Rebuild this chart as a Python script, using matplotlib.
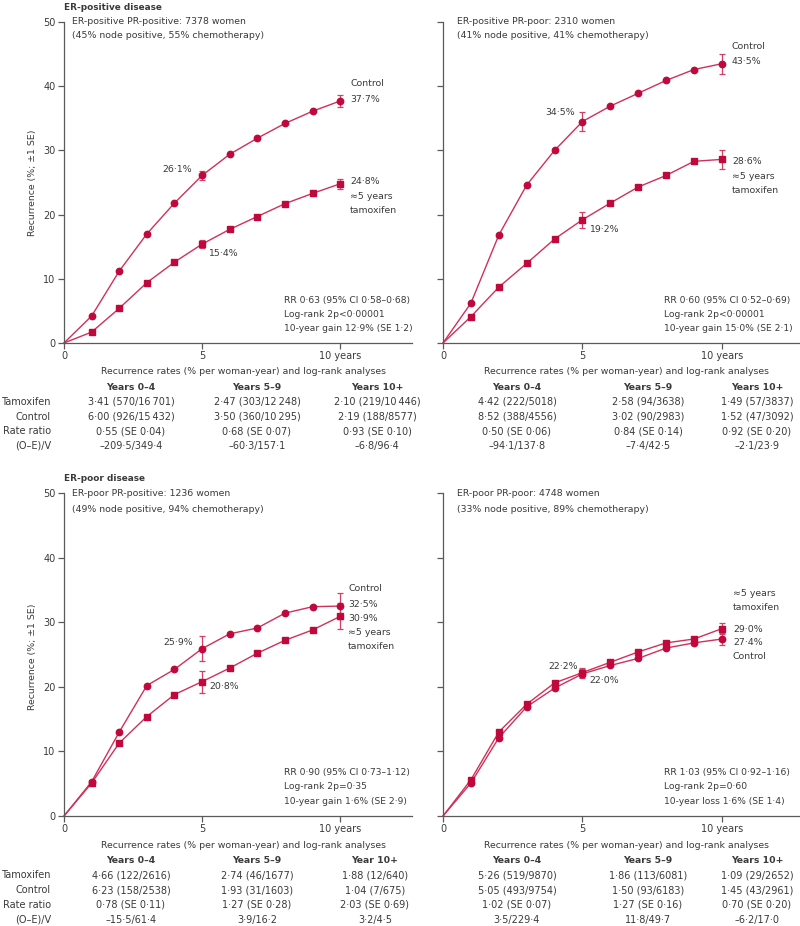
import matplotlib
matplotlib.use("Agg")
import matplotlib.pyplot as plt

plt.rcParams['font.family'] = ['DejaVu Sans']

W, H = 800, 926
FS = 6.75
FST = 7.0
TXT = '#3a3a3a'
AXC = '#5a5a5a'
LINE = '#d0305a'
MARK = '#c0083c'
ERRC = '#d2406a'

years = [0, 1, 2, 3, 4, 5, 6, 7, 8, 9, 10]

# ER-positive PR-positive
tl_control = [0, 4.2, 11.2, 17.0, 21.8, 26.1, 29.4, 31.9, 34.2, 36.1, 37.7]
tl_tamox = [0, 1.7, 5.4, 9.4, 12.6, 15.4, 17.7, 19.7, 21.7, 23.3, 24.8]
tl_control_se = [0.7, 0.9]
tl_tamox_se = [0.6, 0.8]

# ER-positive PR-poor
tr_control = [0, 6.2, 16.8, 24.6, 30.0, 34.5, 36.9, 38.9, 40.9, 42.6, 43.5]
tr_tamox = [0, 4.1, 8.7, 12.4, 16.2, 19.2, 21.8, 24.3, 26.1, 28.3, 28.6]
tr_control_se = [1.5, 1.55]
tr_tamox_se = [1.25, 1.45]

# ER-poor PR-positive
bl_control = [0, 5.3, 13.0, 20.2, 22.7, 25.9, 28.2, 29.1, 31.4, 32.4, 32.5]
bl_tamox = [0, 5.1, 11.3, 15.4, 18.8, 20.8, 22.9, 25.2, 27.2, 28.8, 30.9]
bl_control_se = [1.9, 1.95]
bl_tamox_se = [1.7, 2.0]

# ER-poor PR-poor
br_control = [0, 5.1, 12.1, 16.9, 19.8, 22.0, 23.3, 24.4, 26.0, 26.8, 27.4]
br_tamox = [0, 5.6, 13.0, 17.3, 20.6, 22.2, 23.8, 25.4, 26.8, 27.4, 29.0]
br_control_se = [0.7, 0.9]
br_tamox_se = [0.7, 0.9]

yticks = [0, 10, 20, 30, 40, 50]
xticks = [0, 5, 10]
xticklabels = ['0', '5', '10 years']

row_labels = ['Tamoxifen', 'Control', 'Rate ratio', '(O\u2013E)/V']

tl_cols = ['Years 0\u20134', 'Years 5\u20139', 'Years 10+']
tl_table = [['3\u00b741 (570/16\u2009701)', '2\u00b747 (303/12\u2009248)', '2\u00b710 (219/10\u2009446)'],
            ['6\u00b700 (926/15\u2009432)', '3\u00b750 (360/10\u2009295)', '2\u00b719 (188/8577)'],
            ['0\u00b755 (SE 0\u00b704)', '0\u00b768 (SE 0\u00b707)', '0\u00b793 (SE 0\u00b710)'],
            ['\u2013209\u00b75/349\u00b74', '\u201360\u00b73/157\u00b71', '\u20136\u00b78/96\u00b74']]
tr_cols = ['Years 0\u20134', 'Years 5\u20139', 'Years 10+']
tr_table = [['4\u00b742 (222/5018)', '2\u00b758 (94/3638)', '1\u00b749 (57/3837)'],
            ['8\u00b752 (388/4556)', '3\u00b702 (90/2983)', '1\u00b752 (47/3092)'],
            ['0\u00b750 (SE 0\u00b706)', '0\u00b784 (SE 0\u00b714)', '0\u00b792 (SE 0\u00b720)'],
            ['\u201394\u00b71/137\u00b78', '\u20137\u00b74/42\u00b75', '\u20132\u00b71/23\u00b79']]
bl_cols = ['Years 0\u20134', 'Years 5\u20139', 'Year 10+']
bl_table = [['4\u00b766 (122/2616)', '2\u00b774 (46/1677)', '1\u00b788 (12/640)'],
            ['6\u00b723 (158/2538)', '1\u00b793 (31/1603)', '1\u00b704 (7/675)'],
            ['0\u00b778 (SE 0\u00b711)', '1\u00b727 (SE 0\u00b728)', '2\u00b703 (SE 0\u00b769)'],
            ['\u201315\u00b75/61\u00b74', '3\u00b79/16\u00b72', '3\u00b72/4\u00b75']]
br_cols = ['Years 0\u20134', 'Years 5\u20139', 'Years 10+']
br_table = [['5\u00b726 (519/9870)', '1\u00b786 (113/6081)', '1\u00b709 (29/2652)'],
            ['5\u00b705 (493/9754)', '1\u00b750 (93/6183)', '1\u00b745 (43/2961)'],
            ['1\u00b702 (SE 0\u00b707)', '1\u00b727 (SE 0\u00b716)', '0\u00b770 (SE 0\u00b720)'],
            ['3\u00b75/229\u00b74', '11\u00b78/49\u00b77', '\u20136\u00b72/17\u00b70']]

fig = plt.figure(figsize=(W / 100, H / 100), dpi=100)
fig.patch.set_facecolor('white')


def add_ax(x0, x1, ytop, ybot, xmax):
    ax = fig.add_axes([x0 / W, 1 - ybot / H, (x1 - x0) / W, (ybot - ytop) / H])
    ax.set_xlim(0, xmax)
    ax.set_ylim(0, 50)
    for s in ['top', 'right']:
        ax.spines[s].set_visible(False)
    for s in ['left', 'bottom']:
        ax.spines[s].set_color(AXC)
        ax.spines[s].set_linewidth(0.9)
    ax.spines['left'].set_bounds(0, 50)
    ax.set_xticks(xticks)
    ax.set_xticklabels(xticklabels)
    ax.set_yticks(yticks)
    ax.tick_params(direction='out', length=4, width=0.9, color=AXC,
                   labelsize=7.0, labelcolor=TXT, pad=2)
    ax.patch.set_alpha(0)
    return ax


def draw(ax, ctrl, tam, cse, tse):
    ax.plot(years, ctrl, color=LINE, lw=1.0, zorder=2, clip_on=False)
    ax.plot(years, tam, color=LINE, lw=1.0, zorder=2, clip_on=False)
    ax.plot(years[1:], ctrl[1:], 'o', color=MARK, ms=4.6, zorder=3, clip_on=False)
    ax.plot(years[1:], tam[1:], 's', color=MARK, ms=4.4, zorder=3, clip_on=False)
    idx = [5, 10]
    ax.errorbar([years[i] for i in idx], [ctrl[i] for i in idx], yerr=cse, fmt='none',
                ecolor=ERRC, elinewidth=0.9, capsize=2.5, capthick=0.9, zorder=2)
    ax.errorbar([years[i] for i in idx], [tam[i] for i in idx], yerr=tse, fmt='none',
                ecolor=ERRC, elinewidth=0.9, capsize=2.5, capthick=0.9, zorder=2)


def lab(ax, s, xy, dx, dy, ha='left'):
    ax.annotate(s, xy=xy, xytext=(dx, dy), textcoords='offset pixels',
                ha=ha, va='center', fontsize=FS, color=TXT)


def ftext(x, y, s, ha='left', bold=False, size=FS, rot=0):
    fig.text(x / W, 1 - y / H, s, ha=ha, va='center', fontsize=size, color=TXT,
             fontweight='bold' if bold else 'normal', rotation=rot)


def table(cols, rows, xcols, xhead, ytop, with_labels, step):
    ftext(xhead, ytop, 'Recurrence rates (% per woman-year) and log-rank analyses', ha='center')
    for j, c in enumerate(cols):
        ftext(xcols[j], ytop + 15.5, c, ha='center', bold=True, size=6.7)
    for i, r in enumerate(rows):
        y = ytop + 15.5 + (i + 1) * step
        if with_labels:
            ftext(51, y, row_labels[i], ha='right', size=FST)
        for j, v in enumerate(r):
            ftext(xcols[j], y, v, ha='center', size=FST)


# ---- top-left
ax1 = add_ax(64, 412, 22, 343, 12.6)
draw(ax1, tl_control, tl_tamox, tl_control_se, tl_tamox_se)
lab(ax1, 'Control', (10, tl_control[10]), 10, 17)
lab(ax1, '37\u00b77%', (10, tl_control[10]), 10, 1)
lab(ax1, '26\u00b71%', (5, tl_control[5]), -10, 6, ha='right')
lab(ax1, '15\u00b74%', (5, tl_tamox[5]), 6, -9)
lab(ax1, '24\u00b78%', (10, tl_tamox[10]), 10, 2)
lab(ax1, '\u22485 years', (10, tl_tamox[10]), 10, -13)
lab(ax1, 'tamoxifen', (10, tl_tamox[10]), 10, -27)

# ---- top-right
ax2 = add_ax(443, 800, 22, 343, 12.8)
ax2.set_yticklabels([])
draw(ax2, tr_control, tr_tamox, tr_control_se, tr_tamox_se)
lab(ax2, 'Control', (10, tr_control[10]), 10, 17)
lab(ax2, '43\u00b75%', (10, tr_control[10]), 10, 2)
lab(ax2, '34\u00b75%', (5, tr_control[5]), -8, 9, ha='right')
lab(ax2, '19\u00b72%', (5, tr_tamox[5]), 7, -10)
lab(ax2, '28\u00b76%', (10, tr_tamox[10]), 10, -2)
lab(ax2, '\u22485 years', (10, tr_tamox[10]), 10, -17)
lab(ax2, 'tamoxifen', (10, tr_tamox[10]), 10, -31)

# ---- bottom-left
ax3 = add_ax(64, 412, 493, 816, 12.6)
draw(ax3, bl_control, bl_tamox, bl_control_se, bl_tamox_se)
lab(ax3, 'Control', (10, bl_control[10]), 8, 18)
lab(ax3, '32\u00b75%', (10, bl_control[10]), 8, 2)
lab(ax3, '30\u00b79%', (10, bl_control[10]), 8, -12)
lab(ax3, '\u22485 years', (10, bl_control[10]), 8, -26)
lab(ax3, 'tamoxifen', (10, bl_control[10]), 8, -40)
lab(ax3, '25\u00b79%', (5, bl_control[5]), -9, 6, ha='right')
lab(ax3, '20\u00b78%', (5, bl_tamox[5]), 7, -5)

# ---- bottom-right
ax4 = add_ax(443, 800, 493, 816, 12.8)
ax4.set_yticklabels([])
draw(ax4, br_control, br_tamox, br_control_se, br_tamox_se)
lab(ax4, '\u22485 years', (10, br_tamox[10]), 11, 35)
lab(ax4, 'tamoxifen', (10, br_tamox[10]), 11, 21)
lab(ax4, '29\u00b70%', (10, br_tamox[10]), 11, -1)
lab(ax4, '27\u00b74%', (10, br_tamox[10]), 11, -14)
lab(ax4, 'Control', (10, br_tamox[10]), 11, -28)
lab(ax4, '22\u00b72%', (5, br_tamox[5]), -5, 6, ha='right')
lab(ax4, '22\u00b70%', (5, br_control[5]), 7, -7)

# titles & subtitles
ftext(64, 7, 'ER-positive disease', bold=True, size=6.4)
ftext(64, 478, 'ER-poor disease', bold=True, size=6.4)
ftext(72, 22, 'ER-positive PR-positive: 7378 women')
ftext(72, 36, '(45% node positive, 55% chemotherapy)')
ftext(457, 22, 'ER-positive PR-poor: 2310 women')
ftext(457, 36, '(41% node positive, 41% chemotherapy)')
ftext(72, 494, 'ER-poor PR-positive: 1236 women')
ftext(72, 509, '(49% node positive, 94% chemotherapy)')
ftext(457, 494, 'ER-poor PR-poor: 4748 women')
ftext(457, 509, '(33% node positive, 89% chemotherapy)')

ftext(32, 183, 'Recurrence (%; \u00b11 SE)', ha='center', rot=90)
ftext(32, 657, 'Recurrence (%; \u00b11 SE)', ha='center', rot=90)

# RR blocks
for (x, y0, lines) in [
    (284, 300, ['RR 0\u00b763 (95% CI 0\u00b758\u20130\u00b768)', 'Log-rank 2p<0\u00b700001', '10-year gain 12\u00b79% (SE 1\u00b72)']),
    (664, 300, ['RR 0\u00b760 (95% CI 0\u00b752\u20130\u00b769)', 'Log-rank 2p<0\u00b700001', '10-year gain 15\u00b70% (SE 2\u00b71)']),
    (284, 772, ['RR 0\u00b790 (95% CI 0\u00b773\u20131\u00b712)', 'Log-rank 2p=0\u00b735', '10-year gain 1\u00b76% (SE 2\u00b79)']),
    (664, 772, ['RR 1\u00b703 (95% CI 0\u00b792\u20131\u00b716)', 'Log-rank 2p=0\u00b760', '10-year loss 1\u00b76% (SE 1\u00b74)'])]:
    for k, s in enumerate(lines):
        ftext(x, y0 + k * 14.5, s, size=6.55)

# tables
table(tl_cols, tl_table, [131, 257, 377], 243, 372, True, 14.5)
table(tr_cols, tr_table, [517, 648, 757], 627, 372, False, 14.5)
table(bl_cols, bl_table, [131, 257, 375], 243, 845, True, 14.8)
table(br_cols, br_table, [517, 648, 757], 627, 845, False, 14.8)

fig.savefig('out.png', dpi=100)
